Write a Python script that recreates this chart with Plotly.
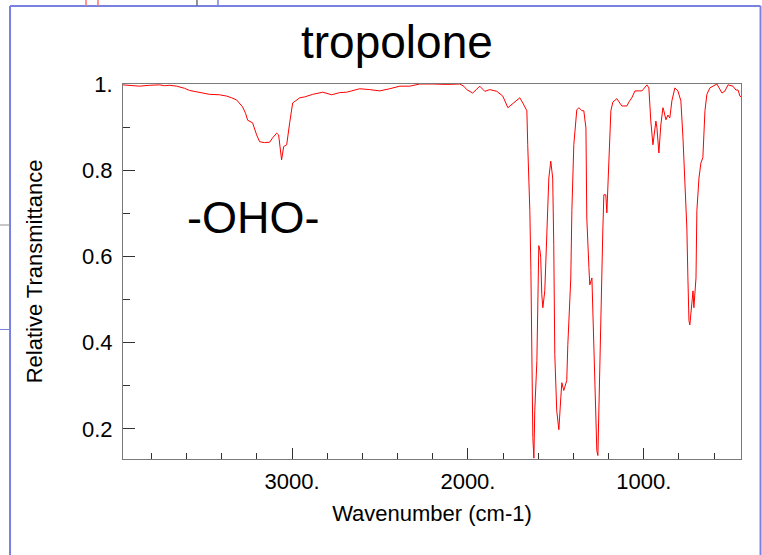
import plotly.graph_objects as go

# IR spectrum of tropolone: wavenumber (cm-1) vs relative transmittance
wavenumber = [
    3963, 3925, 3868, 3811, 3754, 3726, 3697, 3657, 3612, 3583, 3527, 3470, 3413, 3373,
    3344, 3316, 3282, 3265, 3253, 3236, 3225, 3202, 3185, 3157, 3128, 3111, 3088, 3077,
    3071, 3060, 3048, 3031, 3014, 2997, 2980, 2957, 2929, 2883, 2826, 2775, 2730, 2690,
    2661, 2616, 2559, 2502, 2445, 2388, 2331, 2274, 2200, 2121, 2047, 2024, 2007, 1973,
    1950, 1933, 1904, 1876, 1836, 1802, 1773, 1745, 1722, 1705, 1688, 1665, 1660, 1648,
    1642, 1637, 1631, 1625, 1620, 1608, 1603, 1597, 1591, 1586, 1580, 1574, 1563, 1552,
    1540, 1529, 1518, 1512, 1506, 1495, 1483, 1472, 1466, 1455, 1438, 1432, 1415, 1409,
    1398, 1381, 1369, 1352, 1341, 1329, 1324, 1312, 1307, 1295, 1290, 1278, 1267, 1261,
    1256, 1244, 1233, 1227, 1216, 1210, 1198, 1187, 1176, 1153, 1125, 1096, 1085, 1068,
    1050, 1010, 982, 971, 960, 948, 943, 931, 925, 914, 903, 891, 886, 874,
    863, 852, 840, 823, 806, 789, 777, 766, 755, 749, 743, 738, 726, 720,
    715, 703, 698, 686, 675, 664, 652, 641, 624, 584, 555, 538, 521, 493,
    476, 464, 453, 447,
]
transmittance = [
    0.998, 0.997, 0.995, 0.997, 0.998, 0.996, 0.997, 0.995, 0.990, 0.985, 0.981, 0.976, 0.975, 0.972,
    0.968, 0.963, 0.947, 0.932, 0.916, 0.913, 0.910, 0.882, 0.866, 0.864, 0.865, 0.875, 0.886, 0.882,
    0.859, 0.824, 0.855, 0.859, 0.910, 0.956, 0.961, 0.968, 0.970, 0.976, 0.981, 0.975, 0.980, 0.981,
    0.984, 0.989, 0.987, 0.984, 0.989, 0.995, 0.995, 1.000, 1.000, 0.999, 1.000, 0.995, 0.987, 0.979,
    0.988, 0.995, 0.983, 0.987, 0.983, 0.972, 0.945, 0.954, 0.963, 0.968, 0.956, 0.938, 0.859, 0.706,
    0.567, 0.395, 0.180, 0.132, 0.242, 0.358, 0.534, 0.625, 0.615, 0.597, 0.511, 0.481, 0.520, 0.627,
    0.782, 0.821, 0.782, 0.627, 0.372, 0.242, 0.198, 0.272, 0.307, 0.289, 0.312, 0.395, 0.550, 0.706,
    0.859, 0.940, 0.945, 0.938, 0.938, 0.898, 0.689, 0.574, 0.534, 0.550, 0.474, 0.319, 0.149, 0.138,
    0.242, 0.511, 0.659, 0.743, 0.743, 0.701, 0.821, 0.938, 0.958, 0.966, 0.949, 0.949, 0.958, 0.968,
    0.984, 0.984, 0.998, 0.991, 0.914, 0.859, 0.875, 0.914, 0.898, 0.840, 0.905, 0.945, 0.938, 0.917,
    0.928, 0.921, 0.961, 0.991, 0.984, 0.961, 0.875, 0.782, 0.666, 0.550, 0.451, 0.441, 0.487, 0.520,
    0.481, 0.550, 0.706, 0.782, 0.817, 0.829, 0.938, 0.976, 0.991, 1.000, 0.979, 0.984, 0.998, 0.995,
    0.986, 0.986, 0.972, 0.970,
]

y_tickvals = [1.0, 0.8, 0.6, 0.4, 0.2]
y_ticktext = ["1.", "0.8", "0.6", "0.4", "0.2"]
x_tickvals = [3000, 2000, 1000]
x_ticktext = ["3000.", "2000.", "1000."]

FONT = "Arial, Liberation Sans, sans-serif"
AXIS_GRAY = "#7a7a7a"
FRAME_BLUE = "#7880e0"

fig = go.Figure()
fig.add_trace(go.Scatter(
    x=wavenumber, y=transmittance, mode="lines",
    line=dict(color="#ff0000", width=1),
    hoverinfo="skip", showlegend=False,
))

fig.update_xaxes(
    range=[3962, 447], autorange=False,
    showline=True, linecolor=AXIS_GRAY, linewidth=1, mirror=True,
    showgrid=False, zeroline=False,
    tickmode="array", tickvals=x_tickvals, ticktext=x_ticktext,
    ticks="inside", ticklen=11, tickwidth=1, tickcolor="#333333",
    ticklabelstandoff=3,
    tickfont=dict(family=FONT, size=22, color="black"),
    minor=dict(tickmode="array",
               tickvals=list(range(3800, 447, -200)),
               ticks="inside", ticklen=6, tickwidth=1, tickcolor="#333333",
               showgrid=False),
    title=dict(text="Wavenumber (cm-1)", standoff=12,
               font=dict(family=FONT, size=22, color="black")),
)
fig.update_yaxes(
    range=[0.13, 1.0], autorange=False,
    showline=True, linecolor=AXIS_GRAY, linewidth=1, mirror=True,
    showgrid=False, zeroline=False,
    tickmode="array", tickvals=y_tickvals, ticktext=y_ticktext,
    ticks="inside", ticklen=12, tickwidth=1, tickcolor="#333333",
    ticklabelstandoff=5,
    tickfont=dict(family=FONT, size=22, color="black"),
    minor=dict(tickmode="array", tickvals=[0.9, 0.7, 0.5, 0.3],
               ticks="inside", ticklen=7, tickwidth=1, tickcolor="#333333",
               showgrid=False),
    title=dict(text="Relative Transmittance", standoff=33,
               font=dict(family=FONT, size=22, color="black")),
)

annotations = [
    dict(text="tropolone", xref="paper", yref="paper", x=0.4426, y=1.112,
         xanchor="center", yanchor="middle", showarrow=False,
         font=dict(family=FONT, size=46, color="black")),
    dict(text="-OHO-", xref="paper", yref="paper", x=0.2104, y=0.645,
         xanchor="center", yanchor="middle", showarrow=False,
         font=dict(family=FONT, size=45, color="black")),
]

# surrounding slide frame and connector stubs
shapes = [
    dict(type="line", xref="paper", yref="paper", x0=-0.1828, x1=-0.1828, y0=1.208, y1=-0.3,
         line=dict(color=FRAME_BLUE, width=2)),
    dict(type="line", xref="paper", yref="paper", x0=-0.1828, x1=1.0316, y0=1.208, y1=1.208,
         line=dict(color=FRAME_BLUE, width=2)),
    dict(type="line", xref="paper", yref="paper", x0=1.0316, x1=1.0316, y0=1.208, y1=-0.3,
         line=dict(color=FRAME_BLUE, width=2)),
    dict(type="line", xref="paper", yref="paper", x0=-0.0599, x1=-0.0599, y0=1.208, y1=1.26,
         line=dict(color="#ff7070", width=1.5)),
    dict(type="line", xref="paper", yref="paper", x0=-0.0405, x1=-0.0405, y0=1.208, y1=1.26,
         line=dict(color="#ff7070", width=1.5)),
    dict(type="line", xref="paper", yref="paper", x0=0.1197, x1=0.1197, y0=1.208, y1=1.26,
         line=dict(color="#707070", width=1.5)),
    dict(type="line", xref="paper", yref="paper", x0=0.1537, x1=0.1537, y0=1.208, y1=1.26,
         line=dict(color=FRAME_BLUE, width=1.5)),
    dict(type="line", xref="paper", yref="paper", x0=-0.25, x1=-0.1828, y0=0.624, y1=0.624,
         line=dict(color="#909090", width=1)),
    dict(type="line", xref="paper", yref="paper", x0=-0.25, x1=-0.1828, y0=0.3453, y1=0.3453,
         line=dict(color=FRAME_BLUE, width=1)),
]

fig.update_layout(
    width=762, height=555,
    margin=dict(l=123, r=21, t=84, b=96, pad=0),
    paper_bgcolor="white", plot_bgcolor="white",
    font=dict(family=FONT, color="black"),
    annotations=annotations, shapes=shapes,
    showlegend=False,
)

fig.write_html("out.html")
